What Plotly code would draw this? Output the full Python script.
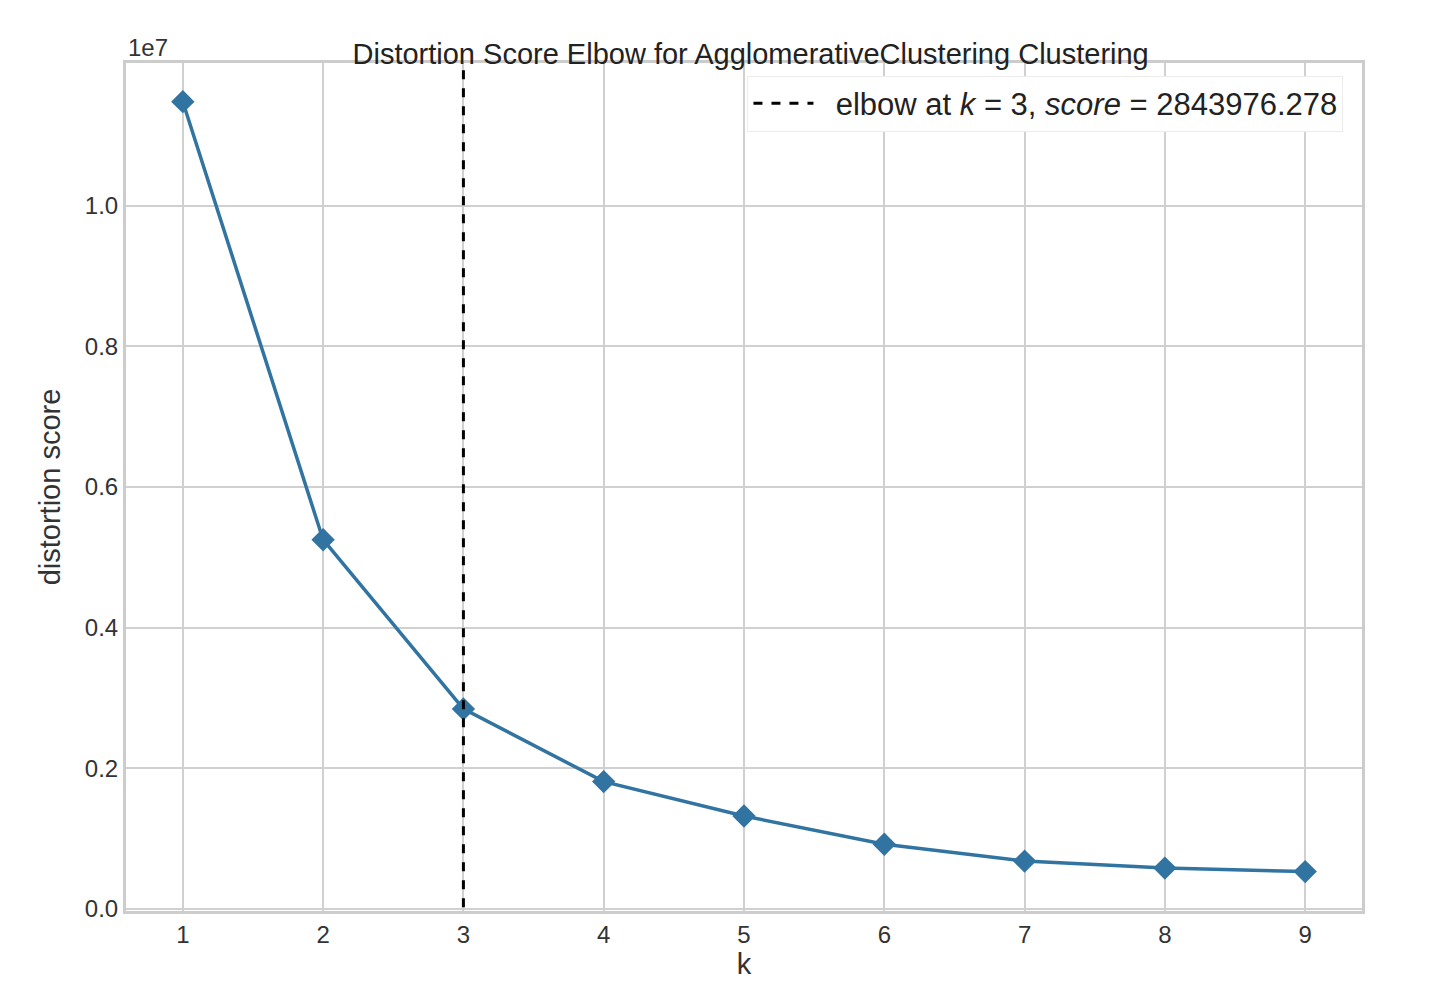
import plotly.graph_objects as go

ks = [1, 2, 3, 4, 5, 6, 7, 8, 9]
scores = [11.48e6, 5.25e6, 2843976.278, 1.81e6, 1.32e6, 0.92e6, 0.68e6, 0.58e6, 0.53e6]
elbow_k = 3
elbow_score = 2843976.278
yticks = [0, 0.2e7, 0.4e7, 0.6e7, 0.8e7, 1.0e7]
yticklabels = ["0.0", "0.2", "0.4", "0.6", "0.8", "1.0"]

fig = go.Figure()
fig.add_trace(go.Scatter(x=ks, y=scores, mode="lines+markers",
                         line=dict(color="#3274a1", width=3.5),
                         marker=dict(symbol="diamond", size=18, color="#3274a1"),
                         showlegend=False))
fig.add_trace(go.Scatter(x=[elbow_k, elbow_k], y=[-1e6, 20e6], mode="lines",
                         line=dict(color="black", width=3, dash="dash"),
                         name=f"  elbow at <i>k</i> = {elbow_k}, <i>score</i> = {elbow_score:.3f}"))

fig.update_layout(
    width=1442, height=1006, paper_bgcolor="white", plot_bgcolor="white",
    margin=dict(l=118, r=88, t=55, b=103),
    font=dict(family="Liberation Sans, Arial", size=24, color="#333"),
    title=dict(text="Distortion Score Elbow for AgglomerativeClustering Clustering",
               x=0.515, xanchor="center", y=0.965, font=dict(size=29, color="#222")),
    legend=dict(x=0.985, y=0.985, xanchor="right", yanchor="top", itemwidth=60,
                bgcolor="white", bordercolor="#ececec", borderwidth=1,
                font=dict(size=31, color="#222")),
    xaxis=dict(range=[0.595, 9.405], tickvals=ks, showgrid=True, gridcolor="#d0d0d0",
               gridwidth=1.5, zeroline=False, showline=True, linecolor="#ccc",
               linewidth=3, mirror=True, ticks="", title=dict(text="k", standoff=4)),
    yaxis=dict(range=[-0.03e6, 12.03e6], tickvals=yticks, ticktext=yticklabels,
               showgrid=True, gridcolor="#d0d0d0", gridwidth=1.5, zeroline=False,
               showline=True, linecolor="#ccc", linewidth=3, mirror=True, ticks="",
               title=dict(text="distortion score", standoff=16)),
    annotations=[dict(text="1e7", xref="paper", yref="paper", x=0, y=1.0,
                      xanchor="left", yanchor="bottom", showarrow=False,
                      font=dict(size=24, color="#333"))],
)
fig.write_html("out.html")
